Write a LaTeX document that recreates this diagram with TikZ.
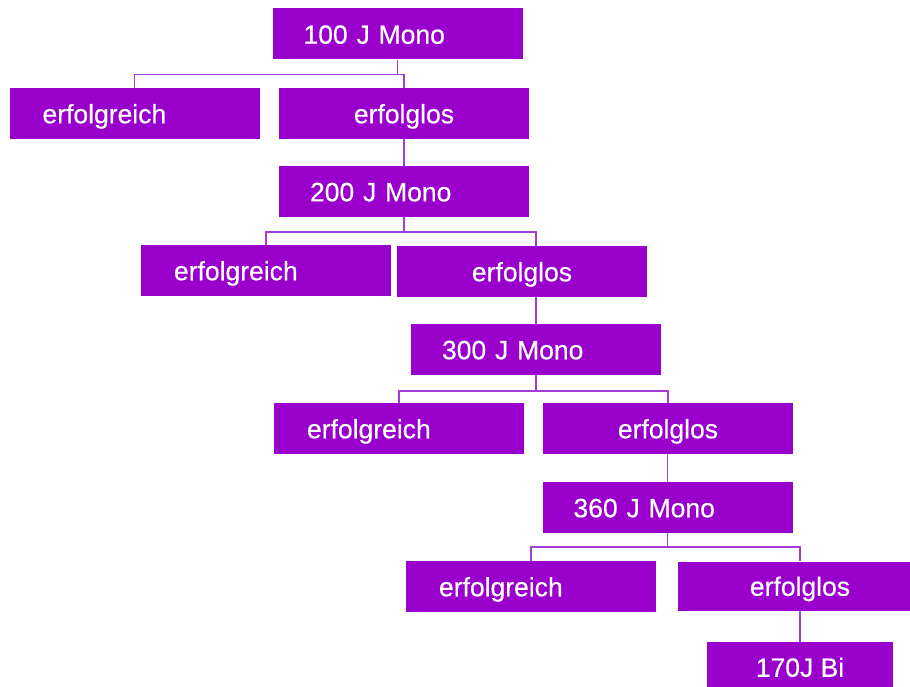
\documentclass[tikz,border=0pt]{standalone}
\usepackage{fontspec}
\setmainfont{Liberation Sans}
\newfontfamily\boxfont{Liberation Sans}[FakeBold=0.4]
\definecolor{boxpurple}{HTML}{9900CC}
\definecolor{linepurple}{HTML}{A43CD6}
\begin{document}
\begin{tikzpicture}[x=1pt,y=-1pt,
  box/.style={rectangle, fill=boxpurple, text=white,
    font=\boxfont\fontsize{26.5}{30}\selectfont, inner ysep=0pt,
    minimum height=51pt, text height=19.5pt, text depth=0pt},
  monobox/.style={box, align=left, inner xsep=31pt, text width=188pt},
  goodbox/.style={box, align=left, inner xsep=33pt, text width=184pt},
  failbox/.style={box, align=center, inner xsep=0pt, minimum width=250pt},
  link/.style={draw=linepurple, line width=1.5pt}]
\useasboundingbox (0,0) rectangle (910,687);
\clip (0,0) rectangle (910,687);

% nodes
\node[monobox] (n0) at (397.5,34) {100 J Mono};
\node[goodbox] (n1a) at (134.5,113.5) {erfolgreich};
\node[failbox] (n1b) at (404,113.5) {erfolglos};
\node[monobox] (n2) at (404,191.5) {200 J Mono};
\node[goodbox] (n3a) at (266,270.5) {erfolgreich};
\node[failbox] (n3b) at (522,271.5) {erfolglos};
\node[monobox] (n4) at (536,349.5) {300 J Mono};
\node[goodbox] (n5a) at (399,428.5) {erfolgreich};
\node[failbox] (n5b) at (668,428.5) {erfolglos};
\node[monobox] (n6) at (667.5,507.5) {360 J Mono};
\node[goodbox] (n7a) at (531,586.5) {erfolgreich};
\node[failbox, minimum width=244pt, minimum height=49pt] (n7b) at (800,586) {erfolglos};
\node[failbox, minimum width=186pt, minimum height=50pt] (n8) at (800,667) {170J Bi};

% junction points
\coordinate (j0) at ([yshift=-15pt]n0.south);
\coordinate (j1) at ([yshift=-15pt]n2.south);
\coordinate (j2) at ([yshift=-16pt]n4.south);
\coordinate (j3) at ([yshift=-14pt]n6.south);

% connectors
\path[link] (n0.south) -- (j0);
\path[link] (n1a.north) |- (j0) -| (n1b.north);
\path[link] (n1b.south) -- (n2.north);

\path[link] (n2.south) -- (j1);
\path[link] (n3a.north) |- (j1) -| (n4.north |- n3b.north);
\path[link] (n4.north |- n3b.south) -- (n4.north);

\path[link] (n4.south) -- (j2);
\path[link] (n5a.north) |- (j2) -| (n5b.north);
\path[link] (n6.north |- n5b.south) -- (n6.north);

\path[link] (n6.south) -- (j3);
\path[link] (n7a.north) |- (j3) -| (n7b.north);
\path[link] (n8.north |- n7b.south) -- (n8.north);
\end{tikzpicture}
\end{document}
